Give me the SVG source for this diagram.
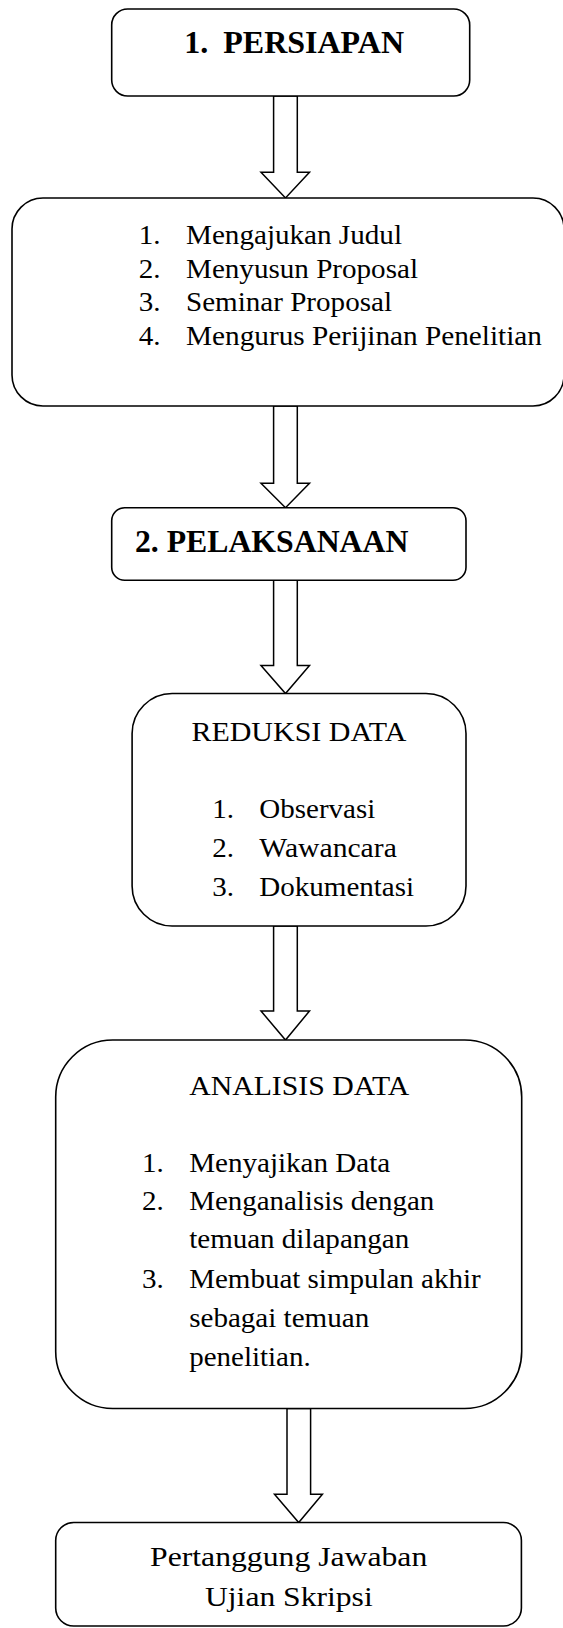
<svg xmlns="http://www.w3.org/2000/svg" width="563" height="1628" viewBox="0 0 563 1628">
<style>
.box{fill:#fff;stroke:#000;stroke-width:1.6}
.arr{fill:#fff;stroke:#000;stroke-width:1.5;stroke-linejoin:miter}
text{font-family:"Liberation Serif",Tinos,"Times New Roman","Noto Serif","DejaVu Serif",serif;fill:#000}
.h{font-size:32px;font-weight:bold}
.t{font-size:27px}
.f{font-size:28px}
</style>
<rect width="563" height="1628" fill="#fff"/>
<g id="connectors">
<polygon class="arr" points="273.6,96 297.3,96 297.3,172.3 309.5,172.3 285.5,198 261,172.3 273.6,172.3"/>
<polygon class="arr" points="273.6,406 297.3,406 297.3,483.3 309.5,483.3 285.5,507.7 261,483.3 273.6,483.3"/>
<polygon class="arr" points="273.6,580.3 297.3,580.3 297.3,665.5 309.5,665.5 285.5,693.5 261,665.5 273.6,665.5"/>
<polygon class="arr" points="273.6,926 297.3,926 297.3,1011 309.5,1011 285.5,1040 261,1011 273.6,1011"/>
<polygon class="arr" points="287,1408.5 310.6,1408.5 310.6,1494.3 322.4,1494.3 298.7,1522.5 274.5,1494.3 287,1494.3"/>
</g>
<g id="persiapan">
<rect class="box" x="111.7" y="9" width="358" height="87" rx="16" ry="16"/>
<text class="h" x="184.2" y="53.3">1.</text>
<text class="h" x="223.3" y="53.3" textLength="180.7" lengthAdjust="spacingAndGlyphs">PERSIAPAN</text>
</g>
<g id="persiapan-list">
<rect class="box" x="12" y="198" width="552" height="208" rx="31" ry="31"/>
<text class="t" x="138.7" y="244" textLength="21.8" lengthAdjust="spacingAndGlyphs">1.</text><text class="t" x="186" y="244" textLength="216" lengthAdjust="spacingAndGlyphs">Mengajukan Judul</text>
<text class="t" x="138.7" y="277.5" textLength="21.8" lengthAdjust="spacingAndGlyphs">2.</text><text class="t" x="186" y="277.5" textLength="232" lengthAdjust="spacingAndGlyphs">Menyusun Proposal</text>
<text class="t" x="138.7" y="311" textLength="21.8" lengthAdjust="spacingAndGlyphs">3.</text><text class="t" x="186" y="311" textLength="206" lengthAdjust="spacingAndGlyphs">Seminar Proposal</text>
<text class="t" x="138.7" y="344.5" textLength="21.8" lengthAdjust="spacingAndGlyphs">4.</text><text class="t" x="186" y="344.5" textLength="356" lengthAdjust="spacingAndGlyphs">Mengurus Perijinan Penelitian</text>
</g>
<g id="pelaksanaan">
<rect class="box" x="111.7" y="507.7" width="354.3" height="72.6" rx="13" ry="13"/>
<text class="h" x="135" y="551.7" textLength="273.3" lengthAdjust="spacingAndGlyphs">2. PELAKSANAAN</text>
</g>
<g id="reduksi">
<rect class="box" x="132.1" y="693.5" width="333.9" height="232.5" rx="40" ry="40"/>
<text class="t" x="191.4" y="740.5" textLength="215" lengthAdjust="spacingAndGlyphs">REDUKSI DATA</text>
<text class="t" x="212.2" y="818.3" textLength="21.8" lengthAdjust="spacingAndGlyphs">1.</text><text class="t" x="259.3" y="818.3" textLength="116" lengthAdjust="spacingAndGlyphs">Observasi</text>
<text class="t" x="212.2" y="857" textLength="21.8" lengthAdjust="spacingAndGlyphs">2.</text><text class="t" x="259.3" y="857" textLength="137.5" lengthAdjust="spacingAndGlyphs">Wawancara</text>
<text class="t" x="212.2" y="895.7" textLength="21.8" lengthAdjust="spacingAndGlyphs">3.</text><text class="t" x="259.3" y="895.7" textLength="154.8" lengthAdjust="spacingAndGlyphs">Dokumentasi</text>
</g>
<g id="analisis">
<rect class="box" x="55.7" y="1040" width="466" height="368.5" rx="57" ry="57"/>
<text class="t" x="189.2" y="1094.5" textLength="220" lengthAdjust="spacingAndGlyphs">ANALISIS DATA</text>
<text class="t" x="142" y="1171.7" textLength="21.8" lengthAdjust="spacingAndGlyphs">1.</text><text class="t" x="189.2" y="1171.7" textLength="201" lengthAdjust="spacingAndGlyphs">Menyajikan Data</text>
<text class="t" x="142" y="1210" textLength="21.8" lengthAdjust="spacingAndGlyphs">2.</text><text class="t" x="189.2" y="1210" textLength="245" lengthAdjust="spacingAndGlyphs">Menganalisis dengan</text>
<text class="t" x="189.2" y="1248.3" textLength="220" lengthAdjust="spacingAndGlyphs">temuan dilapangan</text>
<text class="t" x="142" y="1287.7" textLength="21.8" lengthAdjust="spacingAndGlyphs">3.</text><text class="t" x="189.2" y="1287.7" textLength="291.5" lengthAdjust="spacingAndGlyphs">Membuat simpulan akhir</text>
<text class="t" x="189.2" y="1326.7" textLength="180" lengthAdjust="spacingAndGlyphs">sebagai temuan</text>
<text class="t" x="189.2" y="1366" textLength="121.5" lengthAdjust="spacingAndGlyphs">penelitian.</text>
</g>
<g id="ujian">
<rect class="box" x="55.7" y="1522.5" width="465.7" height="103.5" rx="18" ry="18"/>
<text class="f" x="150" y="1566" textLength="277.3" lengthAdjust="spacingAndGlyphs">Pertanggung Jawaban</text>
<text class="f" x="205" y="1605.5" textLength="167.7" lengthAdjust="spacingAndGlyphs">Ujian Skripsi</text>
</g>
</svg>
